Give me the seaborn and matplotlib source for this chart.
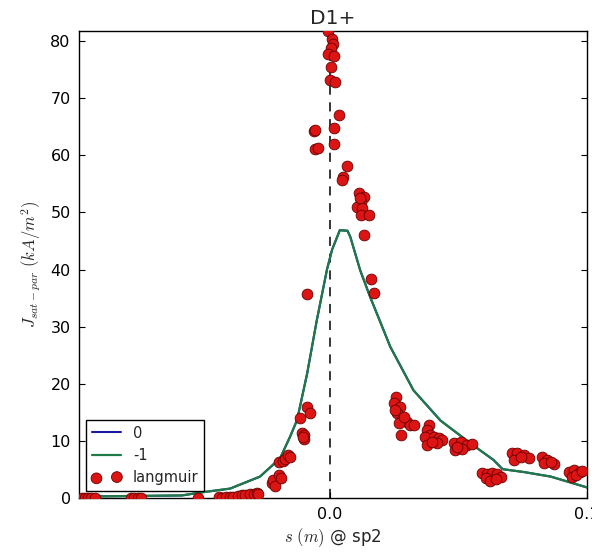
import numpy as np
import pandas as pd
import matplotlib
matplotlib.use("Agg")
import matplotlib.pyplot as plt
import seaborn as sns

# Simulated saturation current profiles along the target (two runs)
sim_s = [-0.0973, -0.0573, -0.0503, -0.0386, -0.0270, -0.0192, -0.0153, -0.0126,
         -0.0087, -0.0050, -0.0010, 0.0010, 0.0040, 0.0070, 0.0081, 0.0119,
         0.0158, 0.0236, 0.0326, 0.0431, 0.0548, 0.0637, 0.0672, 0.0754,
         0.0859, 0.1000]
sim_j0 = [0.3, 0.5, 1.0, 1.7, 3.8, 7.0, 10.8, 13.7,
          21.8, 31.0, 40.0, 43.5, 46.9, 46.8, 45.7, 39.9,
          35.2, 26.5, 18.9, 13.6, 9.6, 6.7, 5.1, 4.6,
          3.8, 1.9]
sim_jm1 = list(sim_j0)

# Langmuir probe measurements
probe_s = [-0.0962, -0.0950, -0.0938, -0.0925, -0.0912,
           -0.0772, -0.0758, -0.0745, -0.0732,
           -0.0510,
           -0.0430, -0.0416, -0.0402, -0.0388, -0.0374,
           -0.0355, -0.0341, -0.0328, -0.0309, -0.0292, -0.0280, -0.0276,
           -0.0224, -0.0218, -0.0211, -0.0198, -0.0189,
           -0.0198, -0.0180, -0.0172, -0.0160, -0.0153,
           -0.0114, -0.0088, -0.0075,
           -0.0107, -0.0101, -0.0098, -0.0104,
           -0.0088,
           -0.0062, -0.0058, -0.0056, -0.0043,
           -0.0004, 0.0009, 0.0013, 0.0005, -0.0004, 0.0018, 0.0005, 0.0000, 0.0022,
           0.0038, 0.0018, 0.0018,
           0.0068, 0.0054, 0.0050,
           0.0113, 0.0132, 0.0122, 0.0107, 0.0126, 0.0123, 0.0152, 0.0118, 0.0135,
           0.0161, 0.0174,
           0.0260, 0.0252, 0.0275, 0.0262, 0.0282, 0.0301, 0.0314, 0.0327,
           0.0268, 0.0279, 0.0288, 0.0256,
           0.0385, 0.0379, 0.0392, 0.0372, 0.0405, 0.0424, 0.0437, 0.0379,
           0.0418, 0.0398,
           0.0482, 0.0509, 0.0535, 0.0554, 0.0489, 0.0515, 0.0496,
           0.0593, 0.0612, 0.0632, 0.0651, 0.0664, 0.0606, 0.0625, 0.0645,
           0.0710, 0.0729, 0.0755, 0.0774, 0.0716, 0.0742,
           0.0826, 0.0846, 0.0872, 0.0833, 0.0859,
           0.0930, 0.0949, 0.0973, 0.0943, 0.0956, 0.0982]
probe_j = [0.1, 0.1, 0.1, 0.1, 0.1,
           0.1, 0.1, 0.1, 0.1,
           0.1,
           0.2, 0.1, 0.2, 0.3, 0.3,
           0.4, 0.5, 0.6, 0.7, 0.8, 1.0, 0.7,
           2.6, 3.2, 2.2, 4.1, 3.5,
           6.3, 6.6, 6.8, 7.6, 7.3,
           14.1, 16.0, 15.0,
           11.5, 11.0, 10.4, 10.8,
           35.7,
           64.2, 64.5, 61.1, 61.3,
           81.7, 80.3, 79.4, 78.8, 77.8, 77.4, 75.4, 73.1, 72.8,
           67.1, 64.8, 61.9,
           58.1, 56.2, 55.7,
           53.4, 52.7, 51.9, 51.0, 50.7, 49.6, 49.6, 52.5, 46.0,
           38.3, 35.9,
           17.8, 16.6, 16.0, 14.9, 13.7, 13.4, 12.8, 12.8,
           13.1, 11.1, 14.3, 15.5,
           12.8, 11.9, 11.1, 10.8, 10.8, 10.5, 10.2, 9.3,
           9.6, 9.9,
           9.6, 9.9, 9.3, 9.5, 8.4, 8.7, 9.0,
           4.4, 4.2, 4.5, 4.2, 3.8, 3.5, 3.1, 3.3,
           7.9, 8.0, 7.6, 7.0, 6.7, 7.3,
           7.3, 6.7, 6.0, 6.2, 6.4,
           4.65, 4.9, 4.65, 3.8, 4.1, 4.8]

x_ticks = [0.0, 0.1]
x_tick_labels = ["0.0", "0.1"]
y_ticks = [0, 10, 20, 30, 40, 50, 60, 70, 80]

sns.set_style("ticks")
plt.rcParams.update({
    "font.family": ["DejaVu Sans"],
    "mathtext.fontset": "cm",
    "xtick.direction": "in",
    "ytick.direction": "in",
    "xtick.top": True,
    "ytick.right": True,
    "xtick.major.size": 4,
    "ytick.major.size": 4,
    "axes.edgecolor": "black",
    "axes.linewidth": 1.0,
    "xtick.color": "black",
    "ytick.color": "black",
})

sim = pd.DataFrame({"s": sim_s, "j0": sim_j0, "jm1": sim_jm1})
probe = pd.DataFrame({"s": probe_s, "j": probe_j})

fig, ax = plt.subplots(figsize=(5.92, 5.53), dpi=100)
fig.subplots_adjust(left=0.1334, right=0.9916, top=0.9445, bottom=0.0989)

sns.lineplot(data=sim, x="s", y="j0", ax=ax, color="#1a1aa0", lw=1.5,
             label="0", zorder=2)
sns.lineplot(data=sim, x="s", y="jm1", ax=ax, color="#1f7a45", lw=1.6,
             label="-1", zorder=3)
sns.scatterplot(data=probe, x="s", y="j", ax=ax, color="#dc1414",
                edgecolor="#6a0000", linewidth=0.6, s=60, label="langmuir",
                zorder=4)

ax.axvline(0.0, color="black", ls=(0, (6, 5)), lw=1.1, zorder=1)

ax.set_xlim(-0.0973, 0.1)
ax.set_ylim(0, 81.8)
ax.set_xticks(x_ticks)
ax.set_xticklabels(x_tick_labels)
ax.set_yticks(y_ticks)
ax.tick_params(labelsize=11.5, pad=6)

ax.set_title("D1+", fontsize=14.5, pad=5)
ax.set_xlabel(r"$s\ (m)$ @ sp2", fontsize=12, labelpad=3)
ax.set_ylabel(r"$J_{sat-par}\ (kA/m^2)$", fontsize=12, labelpad=5)

leg = ax.legend(loc="lower left", scatterpoints=2, fontsize=10.5,
                handlelength=2.0, borderaxespad=0.5, fancybox=False,
                framealpha=1.0, edgecolor="black")
leg.get_frame().set_linewidth(1.0)

fig.savefig("out.png", dpi=100)
